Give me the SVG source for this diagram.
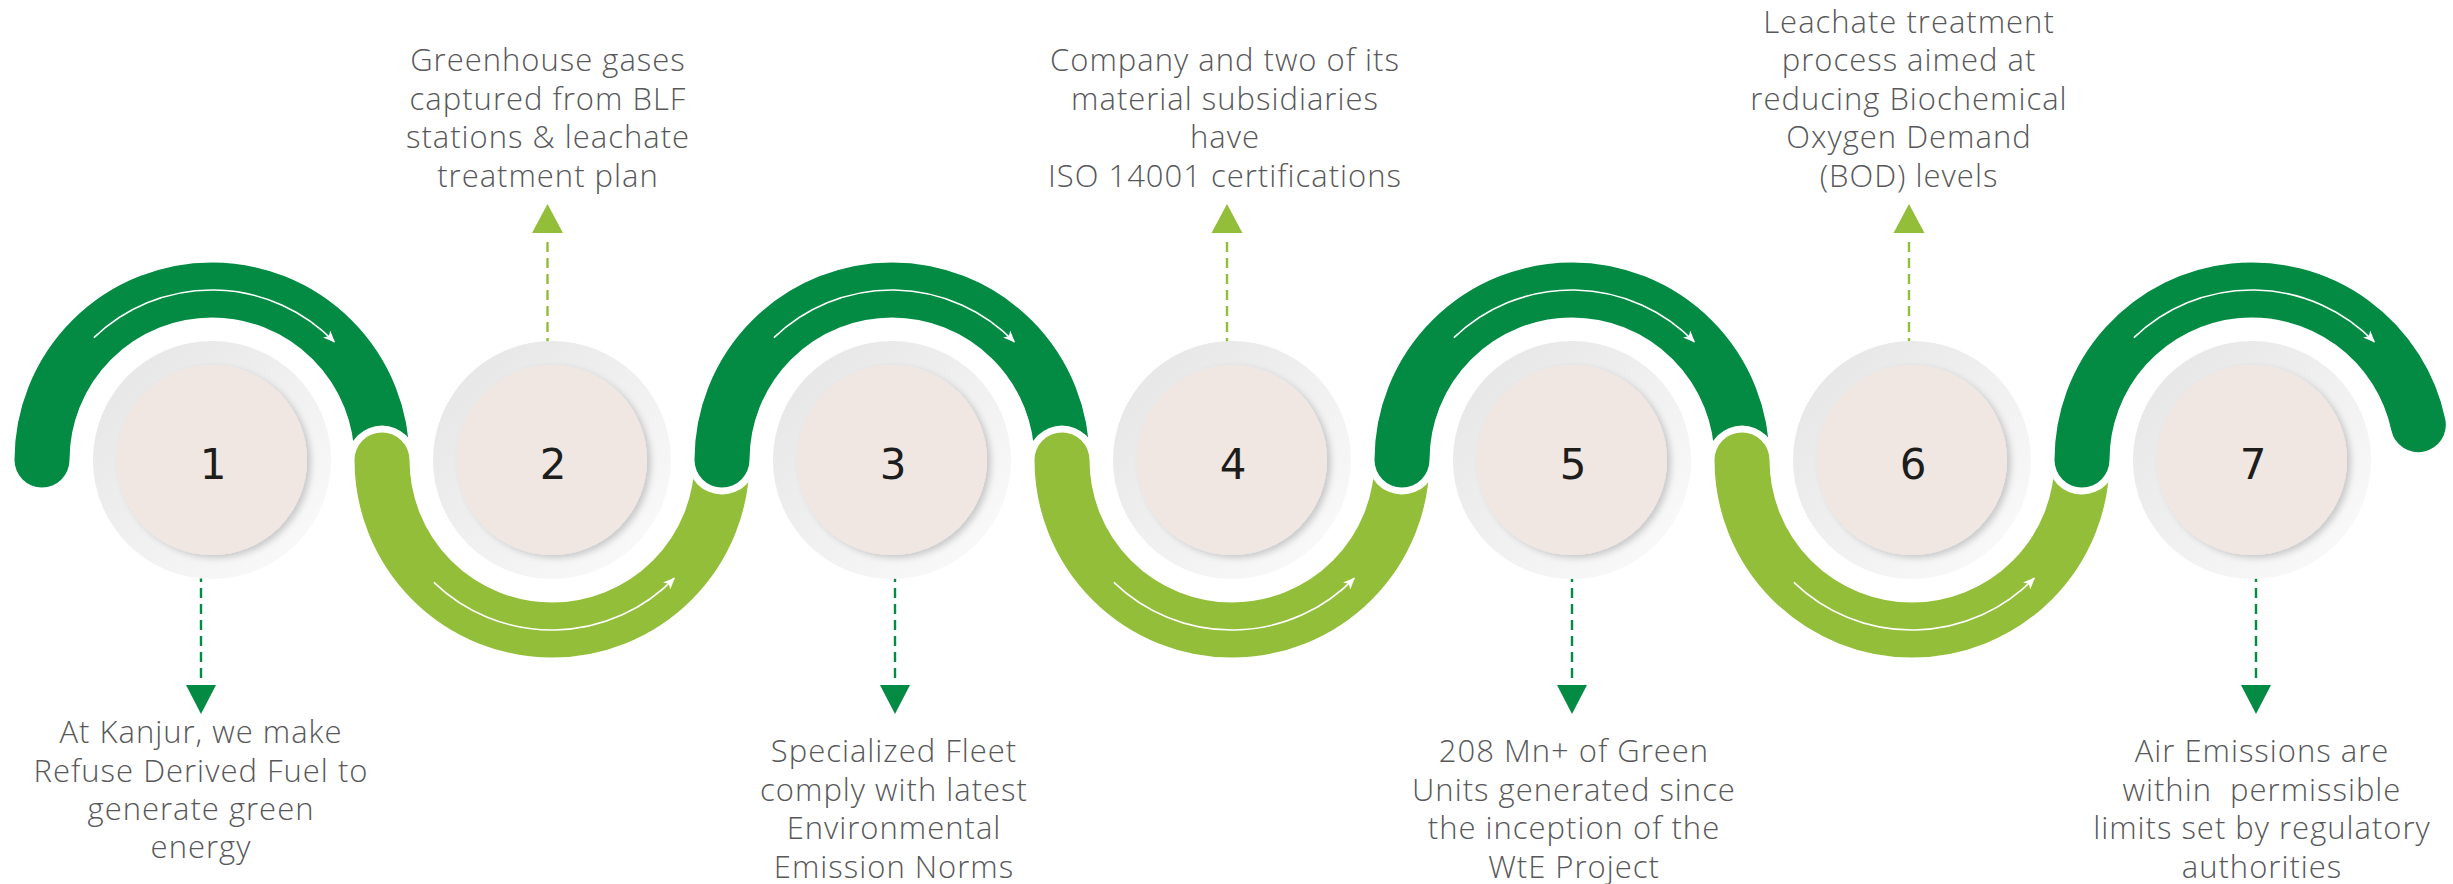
<svg xmlns="http://www.w3.org/2000/svg" width="2453" height="884" viewBox="0 0 2453 884">
<defs>
<style>
.txt{font-family:"Open Sans","Lato","Liberation Sans",sans-serif;font-weight:300;font-size:31px;letter-spacing:1px;fill:#58585a;text-anchor:middle}
.num{font-family:"DejaVu Sans","Liberation Sans",sans-serif;font-size:42px;fill:#1d1d1b;text-anchor:middle}
.gap{fill:none;stroke:#fff;stroke-width:69;stroke-linecap:round}
.dk{fill:none;stroke:#038B43;stroke-width:55;stroke-linecap:round}
.lt{fill:none;stroke:#93BE3A;stroke-width:55;stroke-linecap:round}
.flow{fill:none;stroke:#fff;stroke-width:1.6;marker-end:url(#wh)}
.dashd{fill:none;stroke:#038B43;stroke-width:2.4;stroke-dasharray:10 6}
.dashl{fill:none;stroke:#93BE3A;stroke-width:2.4;stroke-dasharray:10 6}
.hd{fill:#038B43}
.hl{fill:#93BE3A}
.ring{fill:url(#ringG)}
.core{fill:#F0E7E3;filter:url(#sh)}
</style>
<linearGradient id="ringG" x1="0" y1="0" x2="1" y2="1">
<stop offset="0" stop-color="#E4E4E4"/>
<stop offset="1" stop-color="#FCFCFC"/>
</linearGradient>
<filter id="sh" x="-20%" y="-20%" width="140%" height="140%">
<feDropShadow dx="4" dy="3" stdDeviation="3" flood-color="#000" flood-opacity="0.18"/>
</filter>
<marker id="wh" markerWidth="13" markerHeight="10" refX="11" refY="5" orient="auto" markerUnits="userSpaceOnUse">
<path d="M0,0 L12,5 L0,10 L3,5 z" fill="#fff"/>
</marker>
</defs>

<g id="flow-arcs">
<path class="dk" d="M42,460 A170,170 0 0 1 382,460"/>
<path class="flow" d="M93.9,337.7 A170,170 0 0 1 334.3,341.9"/>
<path class="gap" d="M382,460 A170,170 0 0 0 722,460"/>
<path class="lt" d="M382,460 A170,170 0 0 0 722,460"/>
<path class="flow" d="M433.9,582.3 A170,170 0 0 0 674.3,578.1"/>
<path class="gap" d="M722,460 A170,170 0 0 1 1062,460"/>
<path class="dk" d="M722,460 A170,170 0 0 1 1062,460"/>
<path class="flow" d="M773.9,337.7 A170,170 0 0 1 1014.3,341.9"/>
<path class="gap" d="M1062,460 A170,170 0 0 0 1402,460"/>
<path class="lt" d="M1062,460 A170,170 0 0 0 1402,460"/>
<path class="flow" d="M1113.9,582.3 A170,170 0 0 0 1354.3,578.1"/>
<path class="gap" d="M1402,460 A170,170 0 0 1 1742,460"/>
<path class="dk" d="M1402,460 A170,170 0 0 1 1742,460"/>
<path class="flow" d="M1453.9,337.7 A170,170 0 0 1 1694.3,341.9"/>
<path class="gap" d="M1742,460 A170,170 0 0 0 2082,460"/>
<path class="lt" d="M1742,460 A170,170 0 0 0 2082,460"/>
<path class="flow" d="M1793.9,582.3 A170,170 0 0 0 2034.3,578.1"/>
<path class="gap" d="M2082,460 A170,170 0 0 1 2418.3,424.7"/>
<path class="dk" d="M2082,460 A170,170 0 0 1 2418.3,424.7"/>
<path class="flow" d="M2133.9,337.7 A170,170 0 0 1 2374.3,341.9"/>
</g>

<g id="connectors">
<line class="dashd" x1="201" y1="556" x2="201" y2="683"/>
<polygon class="hd" points="186,685 216,685 201,714"/>
<line class="dashl" x1="547.5" y1="364" x2="547.5" y2="237"/>
<polygon class="hl" points="532,233 563,233 547.5,204"/>
<line class="dashd" x1="895" y1="556" x2="895" y2="683"/>
<polygon class="hd" points="880,685 910,685 895,714"/>
<line class="dashl" x1="1227" y1="364" x2="1227" y2="237"/>
<polygon class="hl" points="1211.5,233 1242.5,233 1227,204"/>
<line class="dashd" x1="1572" y1="556" x2="1572" y2="683"/>
<polygon class="hd" points="1557,685 1587,685 1572,714"/>
<line class="dashl" x1="1909" y1="364" x2="1909" y2="237"/>
<polygon class="hl" points="1893.5,233 1924.5,233 1909,204"/>
<line class="dashd" x1="2256" y1="556" x2="2256" y2="683"/>
<polygon class="hd" points="2241,685 2271,685 2256,714"/>
</g>

<g id="node-1">
<circle class="ring" cx="212" cy="460" r="119"/>
<circle class="core" cx="212" cy="460" r="95"/>
<text class="num" x="213" y="479">1</text>
<text class="txt"><tspan x="201" y="743">At Kanjur, we make</tspan><tspan x="201" y="782">Refuse Derived Fuel to</tspan><tspan x="201" y="820">generate green</tspan><tspan x="201" y="858">energy</tspan></text>
</g>
<g id="node-2">
<circle class="ring" cx="552" cy="460" r="119"/>
<circle class="core" cx="552" cy="460" r="95"/>
<text class="num" x="553" y="479">2</text>
<text class="txt"><tspan x="548" y="71">Greenhouse gases</tspan><tspan x="548" y="110">captured from BLF</tspan><tspan x="548" y="148">stations &amp; leachate</tspan><tspan x="548" y="187">treatment plan</tspan></text>
</g>
<g id="node-3">
<circle class="ring" cx="892" cy="460" r="119"/>
<circle class="core" cx="892" cy="460" r="95"/>
<text class="num" x="893" y="479">3</text>
<text class="txt"><tspan x="894" y="762">Specialized Fleet</tspan><tspan x="894" y="801">comply with latest</tspan><tspan x="894" y="839">Environmental</tspan><tspan x="894" y="878">Emission Norms</tspan></text>
</g>
<g id="node-4">
<circle class="ring" cx="1232" cy="460" r="119"/>
<circle class="core" cx="1232" cy="460" r="95"/>
<text class="num" x="1233" y="479">4</text>
<text class="txt"><tspan x="1225" y="71">Company and two of its</tspan><tspan x="1225" y="110">material subsidiaries</tspan><tspan x="1225" y="148">have</tspan><tspan x="1225" y="187">ISO 14001 certifications</tspan></text>
</g>
<g id="node-5">
<circle class="ring" cx="1572" cy="460" r="119"/>
<circle class="core" cx="1572" cy="460" r="95"/>
<text class="num" x="1573" y="479">5</text>
<text class="txt"><tspan x="1574" y="762">208 Mn+ of Green</tspan><tspan x="1574" y="801">Units generated since</tspan><tspan x="1574" y="839">the inception of the</tspan><tspan x="1574" y="878">WtE Project</tspan></text>
</g>
<g id="node-6">
<circle class="ring" cx="1912" cy="460" r="119"/>
<circle class="core" cx="1912" cy="460" r="95"/>
<text class="num" x="1913" y="479">6</text>
<text class="txt"><tspan x="1909" y="33">Leachate treatment</tspan><tspan x="1909" y="71">process aimed at</tspan><tspan x="1909" y="110">reducing Biochemical</tspan><tspan x="1909" y="148">Oxygen Demand</tspan><tspan x="1909" y="187">(BOD) levels</tspan></text>
</g>
<g id="node-7">
<circle class="ring" cx="2252" cy="460" r="119"/>
<circle class="core" cx="2252" cy="460" r="95"/>
<text class="num" x="2253" y="479">7</text>
<text class="txt" style="white-space:pre"><tspan x="2262" y="762">Air Emissions are</tspan><tspan x="2262" y="801">within  permissible</tspan><tspan x="2262" y="839">limits set by regulatory</tspan><tspan x="2262" y="878">authorities</tspan></text>
</g>
</svg>
